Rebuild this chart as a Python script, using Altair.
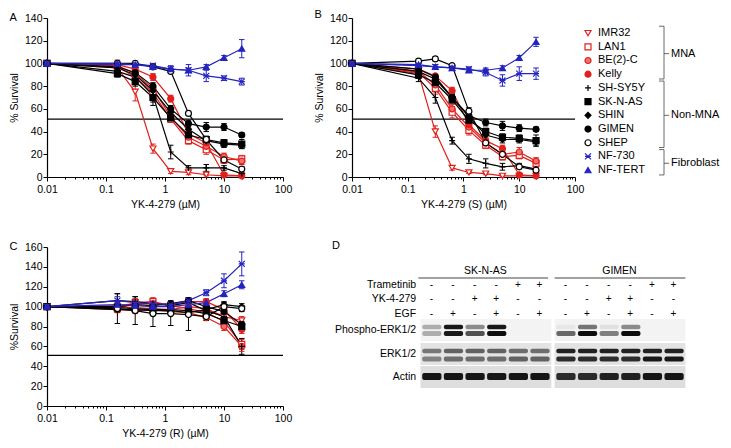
import altair as alt
import pandas as pd

# ---------------- data ----------------
doses = [0.01, 0.156, 0.3125, 0.625, 1.25, 2.5, 5, 10, 20]
cell_lines = ["IMR32", "LAN1", "BE(2)-C", "Kelly", "SH-SY5Y", "SK-N-AS",
              "SHIN", "GIMEN", "SHEP", "NF-730", "NF-TERT"]
threshold = 51

a_mean = {
    "IMR32":   [100, 96, 75, 25, 5, 4, 2, 1, 1],
    "LAN1":    [100, 97, 88, 74, 51, 32, 24, 15, 16],
    "BE(2)-C": [100, 98, 91, 78, 53, 35, 27, 18, 14],
    "Kelly":   [100, 99, 95, 88, 69, 38, 30, 2, 1],
    "SH-SY5Y": [100, 93, 88, 72, 22, 8, 8, 8, 3],
    "SK-N-AS": [100, 91, 84, 70, 52, 37, 33, 30, 29],
    "SHIN":    [100, 96, 90, 76, 57, 42, 32, 29, 28],
    "GIMEN":   [100, 97, 92, 80, 60, 47, 44, 44, 37],
    "SHEP":    [100, 100, 100, 97, 93, 56, 33, 15, 7],
    "NF-730":  [100, 99, 99, 98, 95, 94, 89, 87, 84],
    "NF-TERT": [100, 100, 99, 97, 95, 94, 97, 105, 113],
}
a_err = {
    "IMR32":   [0, 3, 8, 4, 2, 2, 1, 1, 1],
    "LAN1":    [0, 6, 3, 3, 3, 3, 4, 3, 3],
    "BE(2)-C": [0, 3, 3, 3, 3, 3, 3, 3, 3],
    "Kelly":   [0, 2, 3, 3, 3, 3, 3, 1, 1],
    "SH-SY5Y": [0, 3, 4, 9, 6, 2, 3, 2, 1],
    "SK-N-AS": [0, 3, 4, 4, 3, 3, 3, 3, 4],
    "SHIN":    [0, 2, 3, 3, 3, 3, 3, 3, 3],
    "GIMEN":   [0, 2, 3, 3, 3, 3, 4, 3, 2],
    "SHEP":    [0, 2, 2, 2, 2, 2, 2, 2, 2],
    "NF-730":  [0, 2, 2, 2, 3, 5, 5, 2, 3],
    "NF-TERT": [0, 2, 2, 2, 2, 2, 2, 2, 8],
}
b_mean = {
    "IMR32":   [100, 91, 40, 8, 4, 3, 1, 1, 1],
    "LAN1":    [100, 92, 78, 57, 41, 28, 18, 19, 12],
    "BE(2)-C": [100, 93, 81, 60, 44, 30, 20, 22, 14],
    "Kelly":   [100, 95, 89, 76, 46, 32, 25, 2, 1],
    "SH-SY5Y": [100, 87, 70, 32, 16, 12, 9, 10, 7],
    "SK-N-AS": [100, 90, 83, 68, 50, 40, 35, 34, 32],
    "SHIN":    [100, 93, 86, 70, 53, 37, 33, 33, 31],
    "GIMEN":   [100, 95, 88, 70, 54, 48, 45, 43, 42],
    "SHEP":    [100, 102, 104, 98, 58, 30, 20, 9, 6],
    "NF-730":  [100, 98, 97, 96, 95, 92, 85, 91, 91],
    "NF-TERT": [100, 99, 97, 96, 94, 94, 96, 105, 119],
}
b_err = {
    "IMR32":   [0, 3, 5, 2, 1, 1, 1, 1, 1],
    "LAN1":    [0, 3, 5, 5, 4, 3, 3, 3, 3],
    "BE(2)-C": [0, 3, 4, 4, 4, 3, 3, 4, 3],
    "Kelly":   [0, 2, 2, 3, 3, 3, 3, 1, 1],
    "SH-SY5Y": [0, 3, 5, 3, 4, 4, 3, 2, 2],
    "SK-N-AS": [0, 3, 3, 3, 3, 3, 3, 3, 5],
    "SHIN":    [0, 2, 3, 3, 3, 3, 3, 3, 3],
    "GIMEN":   [0, 2, 2, 3, 3, 3, 4, 3, 2],
    "SHEP":    [0, 2, 2, 2, 3, 2, 2, 2, 2],
    "NF-730":  [0, 2, 2, 2, 2, 3, 5, 6, 5],
    "NF-TERT": [0, 2, 2, 2, 2, 2, 2, 2, 4],
}
c_mean = {
    "IMR32":   [100, 100, 99, 98, 97, 100, 98, 90, 86],
    "LAN1":    [100, 98, 104, 105, 101, 98, 94, 85, 62],
    "BE(2)-C": [100, 97, 96, 97, 95, 94, 89, 80, 60],
    "Kelly":   [100, 101, 103, 103, 102, 105, 105, 97, 77],
    "SH-SY5Y": [100, 106, 105, 103, 101, 104, 96, 90, 60],
    "SK-N-AS": [100, 99, 98, 97, 97, 96, 93, 86, 80],
    "SHIN":    [100, 97, 97, 96, 96, 94, 97, 102, 100],
    "GIMEN":   [100, 100, 102, 101, 103, 106, 100, 95, 82],
    "SHEP":    [100, 98, 96, 93, 93, 92, 90, 100, 98],
    "NF-730":  [100, 106, 104, 103, 102, 106, 114, 126, 143],
    "NF-TERT": [100, 102, 101, 100, 100, 102, 104, 113, 122],
}
c_err = {
    "IMR32":   [0, 3, 3, 3, 3, 3, 3, 4, 4],
    "LAN1":    [0, 3, 4, 4, 3, 3, 3, 4, 5],
    "BE(2)-C": [0, 3, 3, 3, 3, 3, 3, 4, 5],
    "Kelly":   [0, 3, 3, 3, 3, 3, 3, 4, 4],
    "SH-SY5Y": [0, 7, 5, 4, 3, 3, 3, 4, 8],
    "SK-N-AS": [0, 3, 3, 3, 3, 3, 3, 4, 4],
    "SHIN":    [0, 3, 3, 3, 3, 3, 3, 3, 3],
    "GIMEN":   [0, 3, 3, 3, 3, 3, 3, 3, 3],
    "SHEP":    [0, 15, 14, 13, 12, 16, 4, 4, 3],
    "NF-730":  [0, 4, 3, 3, 3, 3, 3, 7, 12],
    "NF-TERT": [0, 3, 3, 3, 3, 3, 3, 3, 4],
}

bracket_names = ["MNA", "Non-MNA", "Fibroblast"]
bracket_first = [0, 4, 9]
bracket_last = [3, 8, 10]

# western blot (panel D)
blot_groups = ["SK-N-AS", "GIMEN"]
trametinib = ["-", "-", "-", "-", "+", "+"]
yk4279 = ["-", "-", "+", "+", "-", "-"]
egf = ["-", "+", "-", "+", "-", "+"]
treat_rows = ["Trametinib", "YK-4-279", "EGF"]
blot_rows = ["Phospho-ERK1/2", "ERK1/2", "Actin"]
band_intensity = {
    ("SK-N-AS", "Phospho-ERK1/2", "upper"): [0.30, 0.95, 0.45, 0.95, 0.0, 0.0],
    ("SK-N-AS", "Phospho-ERK1/2", "lower"): [0.30, 0.95, 0.70, 1.00, 0.0, 0.0],
    ("GIMEN", "Phospho-ERK1/2", "upper"):   [0.05, 0.55, 0.08, 0.45, 0.0, 0.0],
    ("GIMEN", "Phospho-ERK1/2", "lower"):   [0.60, 1.00, 0.50, 1.00, 0.0, 0.0],
    ("SK-N-AS", "ERK1/2", "upper"):         [0.50, 0.60, 0.60, 0.60, 0.55, 0.55],
    ("SK-N-AS", "ERK1/2", "lower"):         [0.45, 0.55, 0.55, 0.55, 0.60, 0.60],
    ("GIMEN", "ERK1/2", "upper"):           [0.90, 0.90, 0.90, 0.90, 0.90, 0.90],
    ("GIMEN", "ERK1/2", "lower"):           [0.85, 0.85, 0.85, 0.85, 0.95, 0.95],
    ("SK-N-AS", "Actin", "single"):         [0.95, 0.95, 0.95, 0.95, 0.95, 0.95],
    ("GIMEN", "Actin", "single"):           [0.85, 0.85, 0.90, 0.90, 0.95, 0.95],
}

# ---------------- styling ----------------
FONT = "Liberation Sans"
RED, BLACK, BLUE = "#e0201c", "#000000", "#2424c0"
line_colors = [RED] * 4 + [BLACK] * 5 + [BLUE] * 2
PLUS = "M-1,0L1,0M0,-1L0,1"
STAR = "M-1,-1L1,1M-1,1L1,-1M-1,0L1,0"
CAP = "M-1,0L1,0"
marker_shapes = ["triangle-down", "square", "circle", "circle", PLUS, "square",
                 "diamond", "circle", "circle", STAR, "triangle-up"]
marker_fills = ["white", "white", "#f07070", RED, "white", BLACK, BLACK, BLACK,
                "white", "white", BLUE]

major_ticks = [0.01, 0.1, 1, 10, 100]
minor_ticks = [k * 10 ** e for e in range(-2, 2) for k in range(2, 10)]
x_tick_values = major_ticks + minor_ticks
MAJOR_TEST = "indexof([0.01, 0.1, 1, 10, 100], datum.value) >= 0"

shape_enc = alt.Shape("line:N", scale=alt.Scale(domain=cell_lines, range=marker_shapes), legend=None)
fill_enc = alt.Fill("line:N", scale=alt.Scale(domain=cell_lines, range=marker_fills), legend=None)
stroke_enc = alt.Stroke("line:N", scale=alt.Scale(domain=cell_lines, range=line_colors), legend=None)
color_enc = alt.Color("line:N", scale=alt.Scale(domain=cell_lines, range=line_colors), legend=None)


def panel_title(letter, off=0, dx=0):
    return alt.TitleParams(text=letter, anchor="start", frame="bounds", fontSize=11,
                           fontWeight="normal", font=FONT, offset=off, dx=dx, color="black")


def panel_layers(means, errs, xtitle, ytitle, ymax):
    rows = []
    for name in cell_lines:
        for d, m, e in zip(doses, means[name], errs[name]):
            rows.append({"line": name, "dose": d, "mean": m, "lo": m - e, "hi": m + e, "err": e})
    df = pd.DataFrame(rows)
    xs = alt.Scale(type="log", domain=[0.01, 100], nice=False)
    xa = alt.Axis(values=x_tick_values, format="~g",
                  labelExpr="(" + MAJOR_TEST + ") ? datum.label : ''",
                  tickSize={"condition": {"test": MAJOR_TEST, "value": 4}, "value": 2},
                  labelOverlap=False, labelFlush=False, labelPadding=3, titlePadding=5)
    ys = alt.Scale(domain=[0, ymax], nice=False)
    ya = alt.Axis(values=list(range(0, ymax + 1, 20)), labelFlush=False, tickSize=4,
                  labelPadding=1, titlePadding=5)

    def X():
        return alt.X("dose:Q", scale=xs, axis=xa, title=xtitle)

    def Y(f):
        return alt.Y(f, scale=ys, axis=ya, title=ytitle)

    base = alt.Chart(df)
    eb_base = base.transform_filter("datum.err > 0")
    thr = alt.Chart(pd.DataFrame({"v": [threshold]})).mark_rule(
        color="black", strokeWidth=1.2).encode(y=Y("v:Q"))
    lines = base.mark_line(strokeWidth=1.2).encode(x=X(), y=Y("mean:Q"), color=color_enc, detail="line:N")
    eb = eb_base.mark_rule(strokeWidth=1).encode(x=X(), y=Y("lo:Q"), y2="hi:Q", color=color_enc)
    cap_lo = eb_base.mark_point(shape=CAP, size=30, filled=False, strokeWidth=1, opacity=1).encode(
        x=X(), y=Y("lo:Q"), color=color_enc)
    cap_hi = eb_base.mark_point(shape=CAP, size=30, filled=False, strokeWidth=1, opacity=1).encode(
        x=X(), y=Y("hi:Q"), color=color_enc)
    pts = base.mark_point(size=36, strokeWidth=1.2, opacity=1).encode(
        x=X(), y=Y("mean:Q"), shape=shape_enc, fill=fill_enc, stroke=stroke_enc)
    return alt.layer(thr, lines, eb, cap_lo, cap_hi, pts)


chart_a = panel_layers(a_mean, a_err, "YK-4-279 (\u00b5M)", "% Survival", 140).properties(
    width=236, height=159, title=panel_title("A", -10))
chart_c = panel_layers(c_mean, c_err, "YK-4-279 (R) (\u00b5M)", "%Survival", 160).properties(
    width=236, height=159, title=panel_title("C", -10))

# ---------------- custom legend with brackets (drawn beside panel B) ----------------
leg_df = pd.DataFrame({"line": cell_lines, "row": list(range(len(cell_lines)))})
br_df = pd.DataFrame({
    "name": bracket_names,
    "top": [f - 0.5 for f in bracket_first],
    "bottom": [l + 0.35 for l in bracket_last],
    "mid": [(f + l) / 2 for f, l in zip(bracket_first, bracket_last)],
})
lys = alt.Scale(domain=[-1.1, 10.5], reverse=True, nice=False, zero=False)


def LY(f):
    return alt.Y(f, scale=lys, axis=None)


BR = "#444444"
leg_sym = alt.Chart(leg_df).mark_point(size=36, strokeWidth=1.2, opacity=1).encode(
    x=alt.value(236), y=LY("row:Q"), shape=shape_enc, fill=fill_enc, stroke=stroke_enc)
leg_txt = alt.Chart(leg_df).mark_text(align="left", baseline="middle", fontSize=11, font=FONT,
                                      color="black").encode(
    x=alt.value(246), y=LY("row:Q"), text="line:N")
br_v = alt.Chart(br_df).mark_rule(color=BR, strokeWidth=0.8).encode(
    x=alt.value(312), y=LY("top:Q"), y2="bottom:Q")
br_t = alt.Chart(br_df).mark_rule(color=BR, strokeWidth=0.8).encode(
    x=alt.value(307), x2=alt.value(312), y=LY("top:Q"))
br_b = alt.Chart(br_df).mark_rule(color=BR, strokeWidth=0.8).encode(
    x=alt.value(307), x2=alt.value(312), y=LY("bottom:Q"))
br_m = alt.Chart(br_df).mark_rule(color=BR, strokeWidth=0.8).encode(
    x=alt.value(312), x2=alt.value(317), y=LY("mid:Q"))
br_txt = alt.Chart(br_df).mark_text(align="left", baseline="middle", fontSize=11, font=FONT,
                                    color="black").encode(
    x=alt.value(319), y=LY("mid:Q"), text="name:N")
legend_layer = alt.layer(leg_sym, leg_txt, br_v, br_t, br_b, br_m, br_txt)

chart_b = alt.layer(
    panel_layers(b_mean, b_err, "YK-4-279 (S) (\u00b5M)", "% Survival", 140),
    legend_layer,
).resolve_scale(y="independent").properties(width=223, height=159, title=panel_title("B", -7))

# ---------------- panel D: western blot ----------------
group_offset = [0.0, 6.2]
treat_y = {"Trametinib": 38, "YK-4-279": 52, "EGF": 67}
treat_df = pd.DataFrame([
    {"x": group_offset[g] + i + 0.5, "y": treat_y[r], "sym": s}
    for g in range(2)
    for r, vals in zip(treat_rows, [trametinib, yk4279, egf])
    for i, s in enumerate(vals)
])
row_y = {"Trametinib": 38, "YK-4-279": 52, "EGF": 67,
         "Phospho-ERK1/2": 83, "ERK1/2": 107, "Actin": 130}
row_label_df = pd.DataFrame({"label": treat_rows + blot_rows})
row_label_df["y"] = row_label_df["label"].map(row_y)
row_label_df["x"] = -0.2
box_top = {"Phospho-ERK1/2": 72, "ERK1/2": 96, "Actin": 119}
box_bottom = {"Phospho-ERK1/2": 94, "ERK1/2": 118, "Actin": 141}
box_fill = {"Phospho-ERK1/2": "#f3f3f3", "ERK1/2": "#e3e3e3", "Actin": "#dedede"}
band_center = {("Phospho-ERK1/2", "upper"): 80, ("Phospho-ERK1/2", "lower"): 86.5,
               ("ERK1/2", "upper"): 104, ("ERK1/2", "lower"): 112,
               ("Actin", "single"): 129.5}
band_half = {"upper": 2.2, "lower": 2.4, "single": 3.6}

box_df = pd.DataFrame([
    {"x0": group_offset[g], "x1": group_offset[g] + 6.05, "y0": box_top[r], "y1": box_bottom[r],
     "fill": box_fill[r]}
    for g in range(2) for r in blot_rows
])
band_df = pd.DataFrame([
    {"x0": group_offset[blot_groups.index(grp)] + i + 0.08,
     "x1": group_offset[blot_groups.index(grp)] + i + 0.97,
     "y0": band_center[(row, kind)] - band_half[kind],
     "y1": band_center[(row, kind)] + band_half[kind],
     "intensity": v}
    for (grp, row, kind), vals in band_intensity.items()
    for i, v in enumerate(vals)
])
header_df = pd.DataFrame({
    "name": blot_groups,
    "xc": [group_offset[0] + 3.0, group_offset[1] + 3.0],
    "x0": [group_offset[0] - 0.1, group_offset[1]],
    "x1": [group_offset[0] + 5.9, group_offset[1] + 6.05],
    "ty": [24, 24],
    "ly": [31, 31],
})

dxs = alt.Scale(domain=[-4.6, 12.6], nice=False, zero=False)
dys = alt.Scale(domain=[0, 145], reverse=True, nice=False, zero=False)


def DX(f):
    return alt.X(f, scale=dxs, axis=None)


def DY(f):
    return alt.Y(f, scale=dys, axis=None)


d_hdr = alt.Chart(header_df).mark_text(fontSize=10.5, font=FONT, baseline="middle", color="black").encode(
    x=DX("xc:Q"), y=DY("ty:Q"), text="name:N")
d_hline = alt.Chart(header_df).mark_rule(color="#444444", strokeWidth=1).encode(
    x=DX("x0:Q"), x2="x1:Q", y=DY("ly:Q"))
d_treat = alt.Chart(treat_df).mark_text(fontSize=10, font=FONT, baseline="middle", color="black").encode(
    x=DX("x:Q"), y=DY("y:Q"), text="sym:N")
d_lab = alt.Chart(row_label_df).mark_text(fontSize=10.5, font=FONT, align="right", baseline="middle",
                                          color="black").encode(
    x=DX("x:Q"), y=DY("y:Q"), text="label:N")
d_box = alt.Chart(box_df).mark_rect().encode(
    x=DX("x0:Q"), x2="x1:Q", y=DY("y0:Q"), y2="y1:Q", fill=alt.Fill("fill:N", scale=None))
d_band = alt.Chart(band_df).mark_rect(color="black", cornerRadius=2).encode(
    x=DX("x0:Q"), x2="x1:Q", y=DY("y0:Q"), y2="y1:Q",
    opacity=alt.Opacity("intensity:Q", scale=alt.Scale(domain=[0, 1], range=[0, 0.95]), legend=None))
chart_d = alt.layer(d_box, d_band, d_hdr, d_hline, d_treat, d_lab).properties(
    width=372, height=145, title=panel_title("D", -4, 11))

# ---------------- assemble ----------------
top = alt.hconcat(chart_a, chart_b, spacing=20)
bottom = alt.hconcat(chart_c, chart_d, spacing=27)
chart = alt.vconcat(top, bottom, spacing=28).properties(padding=0).configure(
    font=FONT
).configure_view(stroke="transparent").configure_axis(
    labelFont=FONT, titleFont=FONT, labelFontSize=10.5, titleFontSize=10.5,
    titleFontWeight="normal", labelColor="black", titleColor="black",
    domainColor="black", tickColor="black", domainWidth=1.2, tickWidth=1, grid=False
)

chart.save("out.html", embed_options={"renderer": "svg", "actions": False})
